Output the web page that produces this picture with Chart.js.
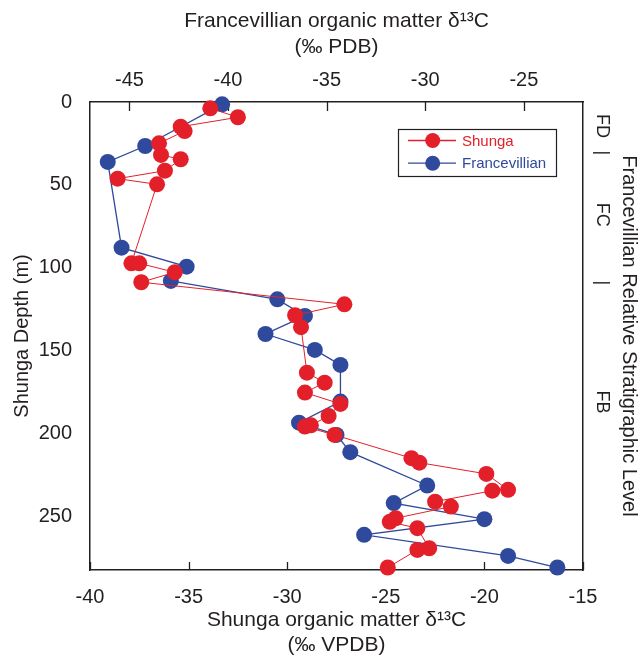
<!DOCTYPE html>
<html>
<head>
<meta charset="utf-8">
<script src="https://cdn.jsdelivr.net/npm/chart.js@4.4.1/dist/chart.umd.min.js"></script>
<style>
  html, body { margin: 0; padding: 0; background: #fff; }
  #wrap { width: 644px; height: 656px; }
</style>
</head>
<body>
<div id="wrap"><canvas id="chart"></canvas></div>
<script>
// Shunga samples (bottom axis, permil VPDB)
const shungaDepth = [3.8, 9.2, 14.9, 17.5, 24.9, 31.9, 34.5, 41.4, 46.2, 49.6,
  97.2, 97.2, 102.6, 108.6, 121.9, 128.5, 135.7, 163.1, 169.1, 175.1,
  181.9, 189.2, 194.8, 195.6, 200.6, 214.6, 217.3, 224.1, 233.7, 234.2,
  240.8, 243.8, 250.8, 253.0, 256.8, 268.9, 269.9, 280.5];
const shungaD13C = [-33.9, -32.5, -35.4, -35.2, -36.5, -36.4, -35.4, -36.2, -38.6, -36.6,
  -37.9, -37.5, -35.7, -37.4, -27.1, -29.6, -29.3, -29.0, -28.1, -29.1,
  -27.3, -27.9, -28.8, -29.1, -27.6, -23.7, -23.3, -19.9, -18.8, -19.6,
  -22.5, -21.7, -24.5, -24.8, -23.4, -22.8, -23.4, -24.9];

// Francevillian samples (top axis, permil PDB)
const francDepth = [1.4, 26.5, 36.1, 87.8, 99.2, 107.8, 118.9, 128.9, 139.8, 149.4,
  158.4, 180.5, 193.2, 200.6, 211.0, 231.1, 241.7, 251.4, 260.8, 273.5, 280.5];
const francD13C = [-40.3, -44.2, -46.1, -45.4, -42.1, -42.9, -37.5, -36.1, -38.1, -35.6,
  -34.3, -34.3, -36.4, -34.5, -33.8, -29.9, -31.6, -27.0, -33.1, -25.8, -23.3];

const bottomTicks = [-40, -35, -30, -25, -20, -15];
const topTicks = [-45, -40, -35, -30, -25];
const depthTicks = [0, 50, 100, 150, 200, 250];
const stratLabels = ['FD', '|', 'FC', '|', 'FB'];
const stratDepths = [14.5, 30.7, 68, 109, 180.7];

const RED = '#e3202a';
const BLUE = '#2f4a9c';
const INK = '#231f20';
const FONT = '"Liberation Sans", Arial, sans-serif';

Chart.defaults.font.family = FONT;
Chart.defaults.color = INK;

const toPoints = (xs, ys) => xs.map((x, i) => ({ x: x, y: ys[i] }));
const setTicks = (list) => (scale) => { scale.ticks = list.map(v => ({ value: v })); };

// inward tick marks on top and bottom axes
const tickMarks = {
  id: 'tickMarks',
  beforeDatasetsDraw(chart) {
    const { ctx, chartArea, scales } = chart;
    ctx.save();
    ctx.strokeStyle = INK;
    ctx.lineWidth = 1.3;
    ctx.beginPath();
    bottomTicks.forEach(v => {
      const x = Math.round(scales.x.getPixelForValue(v)) + 0.5;
      ctx.moveTo(x, chartArea.bottom);
      ctx.lineTo(x, chartArea.bottom - 8);
    });
    topTicks.forEach(v => {
      const x = Math.round(scales.x2.getPixelForValue(v)) + 0.5;
      ctx.moveTo(x, chartArea.top);
      ctx.lineTo(x, chartArea.top + 9);
    });
    ctx.stroke();
    ctx.restore();
  }
};

// stratigraphic level labels (rotated) + boxed legend
const annotations = {
  id: 'annotations',
  afterDraw(chart) {
    const { ctx, chartArea, scales } = chart;
    ctx.save();
    ctx.fillStyle = INK;
    ctx.font = '18px ' + FONT;
    ctx.textAlign = 'center';
    ctx.textBaseline = 'middle';
    stratLabels.forEach((t, i) => {
      const y = scales.y.getPixelForValue(stratDepths[i]);
      ctx.save();
      ctx.translate(chartArea.right + 19, y);
      ctx.rotate(Math.PI / 2);
      ctx.fillText(t, 0, 0);
      ctx.restore();
    });

    const bw = 158, bh = 47;
    const bx = chartArea.right - 27 - bw;
    const by = chartArea.top + 27;
    ctx.strokeStyle = INK;
    ctx.lineWidth = 1.2;
    ctx.strokeRect(bx + 0.5, by + 0.5, bw, bh);
    ctx.font = '15px ' + FONT;
    ctx.textAlign = 'left';
    chart.data.datasets.forEach((ds, i) => {
      const y = by + 11.5 + i * 22.7;
      ctx.strokeStyle = ds.borderColor;
      ctx.lineWidth = 1.3;
      ctx.beginPath();
      ctx.moveTo(bx + 10, y);
      ctx.lineTo(bx + 58, y);
      ctx.stroke();
      ctx.fillStyle = ds.pointBackgroundColor;
      ctx.beginPath();
      ctx.arc(bx + 34.7, y, 7.5, 0, Math.PI * 2);
      ctx.fill();
      ctx.fillText(ds.label, bx + 64, y + 1);
    });
    ctx.restore();
  }
};

new Chart(document.getElementById('chart'), {
  type: 'line',
  data: {
    datasets: [{
      label: 'Shunga',
      data: toPoints(shungaD13C, shungaDepth),
      xAxisID: 'x',
      yAxisID: 'y',
      borderColor: RED,
      backgroundColor: RED,
      pointBackgroundColor: RED,
      borderWidth: 1,
      pointRadius: 8,
      pointBorderWidth: 0,
      tension: 0,
      clip: false
    }, {
      label: 'Francevillian',
      data: toPoints(francD13C, francDepth),
      xAxisID: 'x2',
      yAxisID: 'y',
      borderColor: BLUE,
      backgroundColor: BLUE,
      pointBackgroundColor: BLUE,
      borderWidth: 1.3,
      pointRadius: 8,
      pointBorderWidth: 0,
      tension: 0,
      clip: false
    }]
  },
  options: {
    responsive: true,
    maintainAspectRatio: false,
    animation: false,
    layout: { padding: 0 },
    plugins: {
      legend: { display: false },
      tooltip: { enabled: false }
    },
    scales: {
      x: {
        type: 'linear',
        position: 'bottom',
        min: -40,
        max: -15,
        afterBuildTicks: setTicks(bottomTicks),
        afterFit: (s) => { s.height = 86; },
        grid: { display: false },
        border: { display: true, color: INK, width: 1.5 },
        ticks: { font: { size: 20 }, padding: 7, maxRotation: 0 },
        title: {
          display: true,
          text: ['Shunga organic matter \u03b4\u00b9\u00b3C', '(\u2030 VPDB)'],
          font: { size: 21, lineHeight: 1.2 },
          padding: { top: 0, bottom: -2 }
        }
      },
      x2: {
        type: 'linear',
        position: 'top',
        min: -47,
        max: -22,
        afterBuildTicks: setTicks(topTicks),
        afterFit: (s) => { s.height = 102; },
        grid: { display: false },
        border: { display: true, color: INK, width: 1.5 },
        ticks: { font: { size: 20 }, padding: 2, maxRotation: 0 },
        title: {
          display: true,
          text: ['Francevillian organic matter \u03b4\u00b9\u00b3C', '(\u2030 PDB)'],
          font: { size: 21, lineHeight: 1.2 },
          padding: { top: 9, bottom: 0 }
        }
      },
      y: {
        type: 'linear',
        position: 'left',
        reverse: true,
        min: 0,
        max: 282,
        afterBuildTicks: setTicks(depthTicks),
        afterFit: (s) => { s.width = 90; },
        grid: { display: false },
        border: { display: true, color: INK, width: 1.5 },
        ticks: { font: { size: 20 }, padding: 10 },
        title: {
          display: true,
          text: 'Shunga Depth (m)',
          font: { size: 20 },
          padding: { top: 10, bottom: 0 }
        }
      },
      y2: {
        type: 'linear',
        position: 'right',
        reverse: true,
        min: 0,
        max: 282,
        afterFit: (s) => { s.width = 61; },
        grid: { display: false },
        border: { display: true, color: INK, width: 1.5 },
        ticks: { display: false },
        title: {
          display: true,
          text: 'Francevillian Relative Stratigraphic Level',
          font: { size: 20 },
          padding: { top: 3, bottom: 0 }
        }
      }
    }
  },
  plugins: [tickMarks, annotations]
});
</script>
</body>
</html>
